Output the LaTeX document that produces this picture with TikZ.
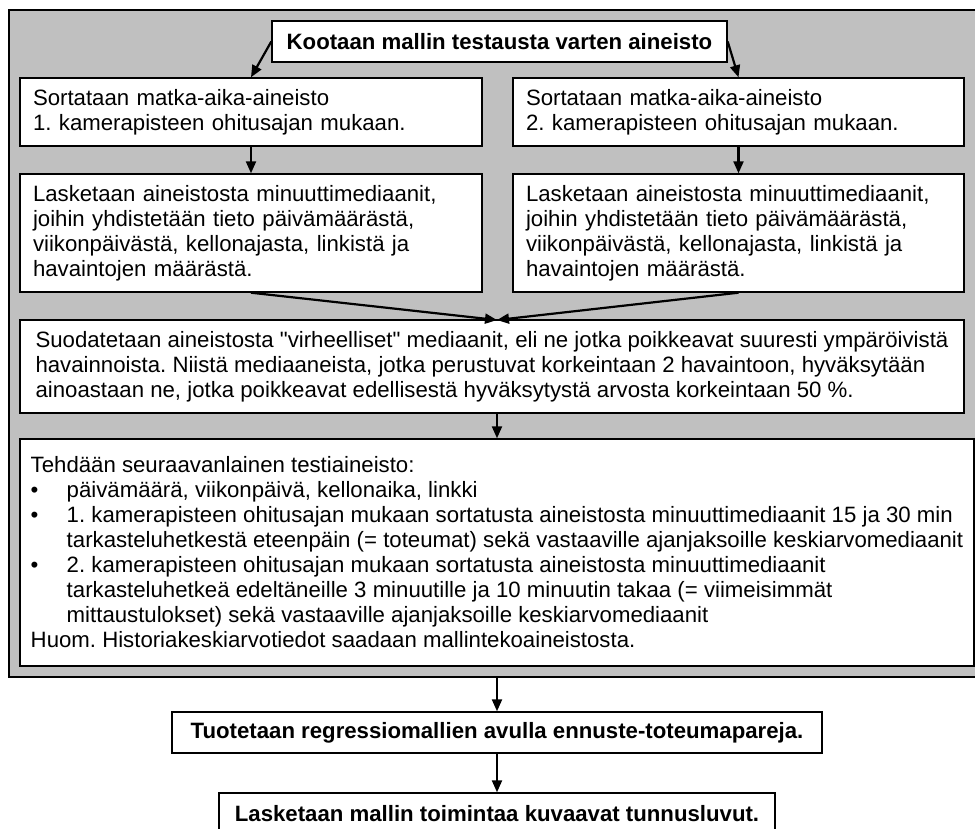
\documentclass[tikz,border=0pt]{standalone}
\usepackage{fontspec}
\setmainfont{Liberation Sans}[Ligatures=TeXOff]
\usetikzlibrary{arrows.meta}
\definecolor{panelgrey}{HTML}{C0C0C0}
\newcommand{\itemmark}{\makebox[36pt][l]{\textbullet}}
\newcommand{\itemgap}{\hspace*{36pt}}
\frenchspacing

\begin{document}
\begin{tikzpicture}[x=1pt, y=-1pt,
  panel/.style={rectangle, draw=black, line width=1.4pt, fill=panelgrey},
  stepbox/.style={rectangle, draw=black, line width=1.4pt, fill=white, inner xsep=13pt, inner ysep=0pt, font=\fontsize{22.2}{25}\selectfont},
  leftbox/.style={stepbox, align=left},
  titlebox/.style={stepbox, align=center, font=\fontsize{22.2}{25}\selectfont\bfseries},
  arrow/.style={-{Triangle[length=12pt, width=10pt]}, line width=2.2pt}
]
  \useasboundingbox (0,0) rectangle (975,828);

  % Grey panel round the data steps
  \node[panel, minimum width=981pt, minimum height=667pt] (grp) at (499.5,343.5) {};

  % Steps inside the panel
  \node[titlebox, minimum width=455pt, minimum height=41pt] (top) at (499.5,41.5) {Kootaan mallin testausta varten aineisto};
  \node[leftbox, text width=436pt, minimum height=68pt] (sort1) at (251,112) {Sortataan matka-aika-aineisto\\ 1. kamerapisteen ohitusajan mukaan.};
  \node[leftbox, text width=425pt, minimum height=68pt] (sort2) at (738.5,112) {Sortataan matka-aika-aineisto\\ 2. kamerapisteen ohitusajan mukaan.};
  \node[leftbox, text width=436pt, minimum height=118pt] (calc1) at (251,233) {Lasketaan aineistosta minuuttimediaanit,\\ joihin yhdistetään tieto päivämäärästä,\\ viikonpäivästä, kellonajasta, linkistä ja\\ havaintojen määrästä.};
  \node[leftbox, text width=425pt, minimum height=118pt] (calc2) at (738.5,233) {Lasketaan aineistosta minuuttimediaanit,\\ joihin yhdistetään tieto päivämäärästä,\\ viikonpäivästä, kellonajasta, linkistä ja\\ havaintojen määrästä.};
  \node[leftbox, minimum width=944pt, minimum height=93pt] (filter) at (492,366.5) {Suodatetaan aineistosta "virheelliset" mediaanit, eli ne jotka poikkeavat suuresti ympäröivistä\\ havainnoista. Niistä mediaaneista, jotka perustuvat korkeintaan 2 havaintoon, hyväksytään\\ ainoastaan ne, jotka poikkeavat edellisestä hyväksytystä arvosta korkeintaan 50 \%.};
  \node[leftbox, inner xsep=8pt, minimum width=954pt, minimum height=227pt] (test) at (497,552.5) {Tehdään seuraavanlainen testiaineisto:\\
    \itemmark päivämäärä, viikonpäivä, kellonaika, linkki\\
    \itemmark 1. kamerapisteen ohitusajan mukaan sortatusta aineistosta minuuttimediaanit 15 ja 30 min\\
    \itemgap tarkasteluhetkestä eteenpäin (= toteumat) sekä vastaaville ajanjaksoille keskiarvomediaanit\\
    \itemmark 2. kamerapisteen ohitusajan mukaan sortatusta aineistosta minuuttimediaanit\\
    \itemgap tarkasteluhetkeä edeltäneille 3 minuutille ja 10 minuutin takaa (= viimeisimmät\\
    \itemgap mittaustulokset) sekä vastaaville ajanjaksoille keskiarvomediaanit\\
    Huom. Historiakeskiarvotiedot saadaan mallintekoaineistosta.};

  % Steps below the panel
  \node[titlebox, minimum width=650pt, minimum height=41pt] (prod) at (497,732.5) {Tuotetaan regressiomallien avulla ennuste-toteumapareja.};
  \node[titlebox, minimum width=556pt, minimum height=41pt] (final) at (497,813.5) {Lasketaan mallin toimintaa kuvaavat tunnusluvut.};

  % Connections
  \coordinate (meet) at (497,320);
  \draw[arrow] (top.west) -- (sort1.north);
  \draw[arrow] (top.east) -- (sort2.north);
  \draw[arrow] (sort1.south) -- (calc1.north);
  \draw[arrow] (sort2.south) -- (calc2.north);
  \draw[arrow] (calc1.south) -- (meet);
  \draw[arrow] (calc2.south) -- (meet);
  \draw[arrow] (meet |- filter.south) -- (meet |- test.north);
  \draw[arrow] (meet |- grp.south) -- (prod.north);
  \draw[arrow] (prod.south) -- (final.north);
\end{tikzpicture}
\end{document}
